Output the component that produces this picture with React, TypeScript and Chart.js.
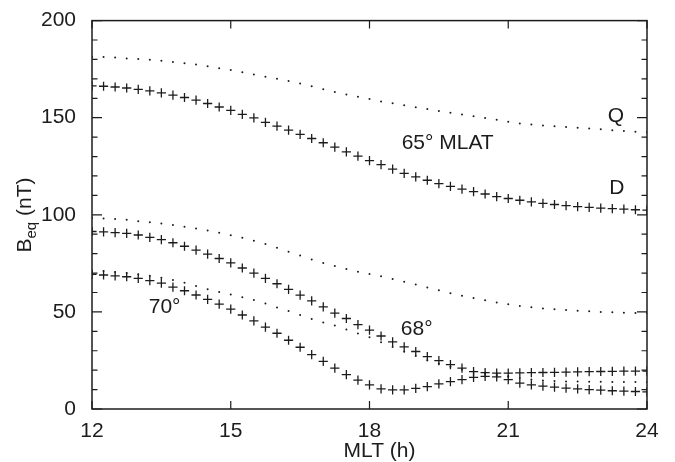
import React, { useEffect, useRef } from "react";
import { Chart, registerables } from "chart.js";

Chart.register(...registerables);

// Magnetic local time (h)
const MLT = [
  12, 12.25, 12.5, 12.75, 13, 13.25, 13.5, 13.75, 14, 14.25, 14.5, 14.75,
  15, 15.25, 15.5, 15.75, 16, 16.25, 16.5, 16.75, 17, 17.25, 17.5, 17.75,
  18, 18.25, 18.5, 18.75, 19, 19.25, 19.5, 19.75, 20, 20.25, 20.5, 20.75,
  21, 21.25, 21.5, 21.75, 22, 22.25, 22.5, 22.75, 23, 23.25, 23.5, 23.75, 24,
];

// 65° MLAT, quiet (dots) and disturbed (crosses)
const Q65 = [
  181.3, 181.2, 181.0, 180.5, 180.2, 179.8, 179.3, 178.7, 178.0, 177.4, 176.5, 175.5,
  174.5, 173.4, 172.3, 171.1, 170.0, 168.9, 167.6, 166.2, 164.7, 163.2, 162.0, 160.8,
  159.6, 158.4, 157.4, 156.4, 155.4, 154.5, 153.5, 152.6, 151.7, 150.8, 149.9, 148.9,
  147.9, 147.0, 146.5, 146.0, 145.6, 145.2, 144.8, 144.4, 144.0, 143.6, 143.2, 142.8, 142.5,
];
const D65 = [
  166.4, 166.2, 165.8, 165.3, 164.6, 163.8, 162.8, 161.6, 160.4, 159.0, 157.3, 155.5,
  153.8, 151.7, 149.9, 147.6, 145.7, 143.6, 141.4, 139.3, 137.1, 134.8, 132.4, 130.2,
  127.9, 125.8, 123.5, 121.3, 119.5, 117.8, 116.1, 114.6, 113.2, 111.9, 110.7, 109.4,
  108.4, 107.5, 106.7, 105.9, 105.3, 104.7, 104.2, 103.8, 103.4, 103.2, 102.9, 102.6, 102.4,
];

// 68° MLAT
const Q68 = [
  98.3, 98.1, 97.9, 97.4, 96.7, 96.2, 95.5, 94.7, 93.8, 92.9, 91.9, 90.7,
  89.5, 88.2, 86.7, 84.9, 83.0, 81.0, 79.0, 77.0, 75.2, 73.6, 72.1, 70.7,
  69.5, 68.3, 67.0, 65.5, 64.1, 62.6, 61.1, 59.6, 58.3, 57.1, 56.0, 54.9,
  53.9, 53.1, 52.4, 51.8, 51.4, 51.0, 50.6, 50.3, 50.0, 49.8, 49.6, 49.4, 49.3,
];
const D68 = [
  91.4, 91.2, 90.8, 90.4, 89.6, 88.4, 87.2, 85.6, 83.8, 81.8, 79.7, 77.5,
  75.2, 72.6, 70.0, 67.3, 64.5, 61.6, 58.6, 55.7, 52.6, 49.4, 46.6, 43.4,
  40.6, 37.6, 34.6, 32.0, 29.6, 27.0, 24.9, 22.9, 21.0, 19.2, 18.7, 18.5,
  18.5, 18.6, 18.7, 18.8, 18.9, 19.0, 19.1, 19.2, 19.3, 19.4, 19.5, 19.5, 19.5,
];

// 70° MLAT
const Q70 = [
  71.2, 71.0, 70.6, 70.0, 69.4, 68.6, 67.6, 66.4, 65.0, 63.3, 61.7, 60.3,
  59.0, 57.6, 56.1, 54.3, 52.3, 50.4, 48.4, 46.4, 44.6, 43.0, 40.9, 38.9,
  36.9, 34.4, 31.9, 29.5, 27.3, 25.1, 23.3, 21.7, 20.4, 19.3, 18.3, 17.5,
  16.7, 15.9, 15.2, 14.7, 14.4, 14.2, 14.1, 14.0, 14.0, 13.9, 13.9, 13.9, 13.9,
];
const D70 = [
  69.3, 69.0, 68.6, 68.1, 67.3, 66.1, 64.8, 62.8, 60.9, 58.7, 56.4, 54.0,
  51.4, 48.4, 45.4, 42.2, 39.0, 35.4, 31.8, 28.0, 24.5, 21.0, 17.7, 14.9,
  12.4, 10.4, 9.8, 9.8, 10.6, 11.5, 12.9, 14.1, 15.1, 16.3, 16.8, 16.5,
  15.1, 13.3, 12.4, 11.8, 11.3, 10.8, 10.4, 10.0, 9.7, 9.4, 9.2, 9.0, 8.8,
];

const X_TICK_STEP = 3;
const Y_TICK_STEP = 10;
const Y_LABEL_STEP = 50;

// Text labels inside the plot: [text, MLT, Beq]
const LABELS: [string, number, number][] = [
  ["Q", 23.33, 150.9],
  ["65° MLAT", 19.69, 136.8],
  ["D", 23.35, 113.9],
  ["70°", 13.57, 52.5],
  ["68°", 19.02, 41.2],
];

const FONT = '"Liberation Sans", Arial, Helvetica, sans-serif';
const INK = "#1c1c1c";

const toXY = (ys: number[]) => ys.map((y, i) => ({ x: MLT[i], y }));

const framePlugin = {
  id: "frameTicks",
  afterDatasetsDraw(chart: any) {
    const { ctx, chartArea: a, scales } = chart;
    const xs = scales.x;
    const ys = scales.y;
    ctx.save();
    ctx.strokeStyle = INK;
    ctx.lineWidth = 1.5;
    ctx.strokeRect(a.left, a.top, a.right - a.left, a.bottom - a.top);
    ctx.lineWidth = 1.2;
    ctx.beginPath();
    ys.ticks.forEach((t: any) => {
      const py = ys.getPixelForValue(t.value);
      const len = t.value % Y_LABEL_STEP === 0 ? 10 : 5.5;
      ctx.moveTo(a.left, py);
      ctx.lineTo(a.left + len, py);
      ctx.moveTo(a.right, py);
      ctx.lineTo(a.right - len, py);
    });
    xs.ticks.forEach((t: any) => {
      const px = xs.getPixelForValue(t.value);
      ctx.moveTo(px, a.bottom);
      ctx.lineTo(px, a.bottom - 8);
      ctx.moveTo(px, a.top);
      ctx.lineTo(px, a.top + 8);
    });
    ctx.stroke();
    ctx.restore();
  },
  afterDraw(chart: any) {
    const { ctx, chartArea: a, scales } = chart;
    ctx.save();
    ctx.fillStyle = INK;
    // in-plot labels
    ctx.font = `21px ${FONT}`;
    ctx.textAlign = "center";
    ctx.textBaseline = "middle";
    LABELS.forEach(([txt, x, y]) => {
      ctx.fillText(txt, scales.x.getPixelForValue(x), scales.y.getPixelForValue(y));
    });
    // x title
    ctx.textBaseline = "alphabetic";
    ctx.fillText("MLT (h)", (a.left + a.right) / 2 + 10, 456.5);
    // y title with subscript
    const big = `21px ${FONT}`;
    const small = `15px ${FONT}`;
    ctx.font = big;
    const wB = ctx.measureText("B").width;
    const wRest = ctx.measureText(" (nT)").width;
    ctx.font = small;
    const wSub = ctx.measureText("eq").width;
    const total = wB + wSub + wRest;
    ctx.translate(31, 215);
    ctx.rotate(-Math.PI / 2);
    ctx.textAlign = "left";
    let cx = -total / 2;
    ctx.font = big;
    ctx.fillText("B", cx, 0);
    cx += wB;
    ctx.font = small;
    ctx.fillText("eq", cx, 4.5);
    cx += wSub;
    ctx.font = big;
    ctx.fillText(" (nT)", cx, 0);
    ctx.restore();
  },
};

export default function App() {
  const ref = useRef<HTMLCanvasElement | null>(null);
  useEffect(() => {
    document.body.style.margin = "0";
    const canvas = ref.current;
    if (!canvas) return;
    const dots = (data: number[]) => ({
      data: toXY(data),
      showLine: false,
      pointStyle: "circle" as const,
      pointRadius: 1,
      pointBorderWidth: 0,
      pointBackgroundColor: INK,
      pointBorderColor: INK,
    });
    const crosses = (data: number[]) => ({
      data: toXY(data),
      showLine: false,
      pointStyle: "cross" as const,
      pointRadius: 4.6,
      pointBorderWidth: 1.3,
      pointBorderColor: INK,
      pointBackgroundColor: INK,
    });
    const chart = new Chart(canvas, {
      type: "scatter",
      data: {
        datasets: [
          { label: "65° Q", ...dots(Q65) },
          { label: "65° D", ...crosses(D65) },
          { label: "68° Q", ...dots(Q68) },
          { label: "68° D", ...crosses(D68) },
          { label: "70° Q", ...dots(Q70) },
          { label: "70° D", ...crosses(D70) },
        ],
      },
      options: {
        animation: false,
        responsive: false,
        devicePixelRatio: 1,
        layout: { padding: { top: 20, right: 28, left: 0, bottom: 0 } },
        plugins: {
          legend: { display: false },
          tooltip: { enabled: false },
          title: { display: false },
        },
        scales: {
          x: {
            type: "linear",
            min: 12,
            max: 24,
            grid: { display: false },
            border: { display: false },
            ticks: {
              stepSize: X_TICK_STEP,
              autoSkip: false,
              maxRotation: 0,
              color: INK,
              padding: 2,
              font: { family: FONT, size: 21 },
            },
            afterFit: (s: any) => {
              s.height = 53;
            },
          },
          y: {
            type: "linear",
            min: 0,
            max: 200,
            grid: { display: false },
            border: { display: false },
            ticks: {
              stepSize: Y_TICK_STEP,
              autoSkip: false,
              color: INK,
              padding: 8,
              font: { family: FONT, size: 21 },
              callback: (v: any) => (Number(v) % Y_LABEL_STEP === 0 ? String(v) : ""),
            },
            afterFit: (s: any) => {
              s.width = 92;
            },
          },
        },
      },
      plugins: [framePlugin],
    });
    return () => chart.destroy();
  }, []);
  return (
    <div style={{ width: 675, height: 462, background: "#fff" }}>
      <canvas ref={ref} width={675} height={462} style={{ display: "block" }} />
    </div>
  );
}
